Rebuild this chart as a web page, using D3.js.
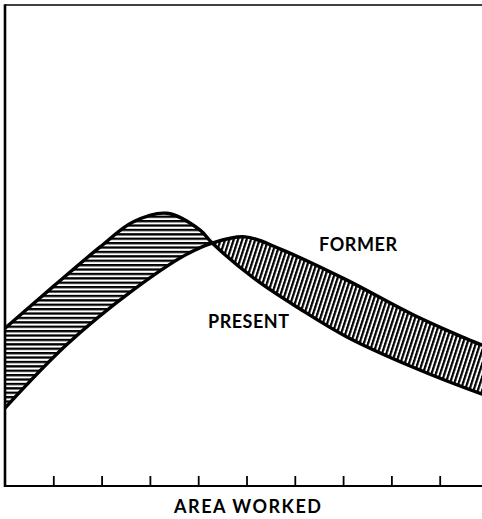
<!DOCTYPE html>
<html><head><meta charset="utf-8">
<script src="https://cdn.jsdelivr.net/npm/d3@7"></script>
<style>html,body{margin:0;padding:0;background:#fff;}svg{display:block;}</style>
</head><body>
<div id="chart"></div>
<script>
// Area worked (tick units 0..10)
const presentX = [0, 0.99, 1.97, 2.65, 3.35, 4.04, 4.29, 5.18, 6.11, 7.08, 8.45, 9.88, 10];
const presentValues = [32.8, 41.4, 49.7, 54.9, 56.7, 53.2, 50.5, 43.0, 36.8, 31.0, 24.7, 19.1, 18.7];
const formerX = [0, 1.28, 2.65, 3.73, 4.29, 4.97, 5.69, 7.08, 8.45, 9.88, 10];
const formerValues = [16.2, 29.4, 40.7, 48.0, 50.5, 51.8, 49.3, 42.8, 35.6, 29.3, 29.0];
const tickValues = [1,2,3,4,5,6,7,8,9];
const labels = {former:"FORMER", present:"PRESENT", xTitle:"AREA WORKED"};
const crossX = 4.29;

const W = 482, H = 519;
const x = d3.scaleLinear().domain([0,10]).range([5,488]);
const y = d3.scaleLinear().domain([0,100]).range([486,5]);

const svg = d3.select("#chart").append("svg").attr("width",W).attr("height",H);
const defs = svg.append("defs");

const ph = defs.append("pattern").attr("id","hatchH").attr("patternUnits","userSpaceOnUse")
  .attr("width",10).attr("height",4.4);
ph.append("rect").attr("width",10).attr("height",4.4).attr("fill","#fff");
ph.append("rect").attr("y",0).attr("width",10).attr("height",2.3).attr("fill","#000");
const pv = defs.append("pattern").attr("id","hatchV").attr("patternUnits","userSpaceOnUse")
  .attr("width",4.1).attr("height",10).attr("patternTransform","rotate(18)");
pv.append("rect").attr("width",4.1).attr("height",10).attr("fill","#fff");
pv.append("rect").attr("x",0).attr("width",2.2).attr("height",10).attr("fill","#000");

defs.append("clipPath").attr("id","clipL").append("rect")
  .attr("x",x(0)).attr("y",0).attr("width",x(crossX)-x(0)).attr("height",H);
defs.append("clipPath").attr("id","clipR").append("rect")
  .attr("x",x(crossX)).attr("y",0).attr("width",W).attr("height",H);

const pData = presentX.map((v,i)=>({x:v, y:presentValues[i]}));
const fData = formerX.map((v,i)=>({x:v, y:formerValues[i]}));
const curve = d3.curveCatmullRom.alpha(0.5);
const line = d3.line().x(d=>x(d.x)).y(d=>y(d.y)).curve(curve);

const bandD = line(pData) + line(fData.slice().reverse()).replace(/^M/,"L") + "Z";
svg.append("path").attr("d",bandD).attr("fill","url(#hatchH)").attr("clip-path","url(#clipL)");
svg.append("path").attr("d",bandD).attr("fill","url(#hatchV)").attr("clip-path","url(#clipR)");

svg.append("path").datum(pData).attr("d",line).attr("fill","none").attr("stroke","#000").attr("stroke-width",3.4);
svg.append("path").datum(fData).attr("d",line).attr("fill","none").attr("stroke","#000").attr("stroke-width",3.4);

// frame: top, left, bottom
svg.append("line").attr("x1",x(0)).attr("x2",W).attr("y1",y(100)).attr("y2",y(100)).attr("stroke","#000").attr("stroke-width",1.6);
svg.append("line").attr("x1",x(0)).attr("x2",x(0)).attr("y1",y(100)-0.8).attr("y2",y(0)+1).attr("stroke","#000").attr("stroke-width",2.6);

const xAxis = d3.axisBottom(x).tickValues(tickValues).tickSize(-10).tickFormat("");
const gx = svg.append("g").attr("transform",`translate(0,${y(0)})`).call(xAxis);
gx.select(".domain").attr("d",`M${x(0)},0H${W}`).attr("stroke","#000").attr("stroke-width",2.2);
gx.selectAll(".tick line").attr("stroke","#000").attr("stroke-width",1.8);

const font = "Lato, 'Open Sans', sans-serif";
function label(txt, x0, y0, len){
  svg.append("text").attr("x",x0).attr("y",y0).text(txt)
    .attr("font-family",font).attr("font-weight",700).attr("font-size",18)
    .attr("textLength",len).attr("lengthAdjust","spacing").attr("fill","#000");
}
label(labels.former, 319, 251, 78);
label(labels.present, 208, 328, 81);
label(labels.xTitle, 174, 513, 147);
</script>
</body></html>
